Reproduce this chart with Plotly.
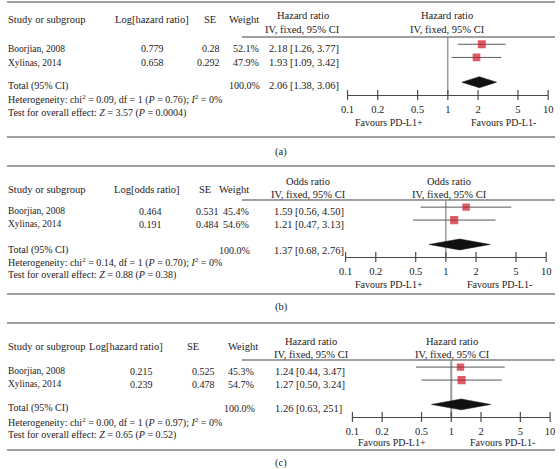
import plotly.graph_objects as go

# ---------------- data ----------------
studies = ["Boorjian, 2008", "Xylinas, 2014"]
tick_vals = [0.1, 0.2, 0.5, 1, 2, 5, 10]
tick_text = ["0.1", "0.2", "0.5", "1", "2", "5", "10"]

# panel (a)
a_log = ["0.779", "0.658"]
a_se = ["0.28", "0.292"]
a_weight = [52.1, 47.9]
a_est = [2.18, 1.93]
a_lo = [1.26, 1.09]
a_hi = [3.77, 3.42]
a_total = [2.06, 1.38, 3.06]
a_total_text = "2.06 [1.38, 3.06]"
a_het = "Heterogeneity: chi<sup>2</sup> = 0.09, df = 1 (<i>P</i> = 0.76); <i>I</i><sup>2</sup> = 0%"
a_test = "Test for overall effect: <i>Z</i> = 3.57 (<i>P</i> = 0.0004)"

# panel (b)
b_log = ["0.464", "0.191"]
b_se = ["0.531", "0.484"]
b_weight = [45.4, 54.6]
b_est = [1.59, 1.21]
b_lo = [0.56, 0.47]
b_hi = [4.50, 3.13]
b_total = [1.37, 0.68, 2.76]
b_total_text = "1.37 [0.68, 2.76]"
b_het = "Heterogeneity: chi<sup>2</sup> = 0.14, df = 1 (<i>P</i> = 0.70); <i>I</i><sup>2</sup> = 0%"
b_test = "Test for overall effect: <i>Z</i> = 0.88 (<i>P</i> = 0.38)"

# panel (c)
c_log = ["0.215", "0.239"]
c_se = ["0.525", "0.478"]
c_weight = [45.3, 54.7]
c_est = [1.24, 1.27]
c_lo = [0.44, 0.50]
c_hi = [3.47, 3.24]
c_total = [1.26, 0.63, 2.51]
c_total_text = "1.26 [0.63, 251]"
c_het = "Heterogeneity: chi<sup>2</sup> = 0.00, df = 1 (<i>P</i> = 0.97); <i>I</i><sup>2</sup> = 0%"
c_test = "Test for overall effect: <i>Z</i> = 0.65 (<i>P</i> = 0.52)"

# ---------------- layout helpers ----------------
W, H = 560, 469
FONT = "Liberation Serif"
TXT = "#1e1a1b"
RULE = "#808080"
DY = 2  # text vertical nudge (px)


def px(x):
    return x / W


def py(y):
    return 1 - y / H


annotations = []
shapes = []


def text(x, y, s, anchor="left", size=11):
    annotations.append(dict(x=px(x), y=py(y + DY), xref="paper", yref="paper", text=s,
                            showarrow=False, xanchor=anchor, yanchor="middle",
                            borderpad=0, borderwidth=0,
                            font=dict(family=FONT, size=size, color=TXT)))


def hline(y, x0, x1, width=1.3, color=RULE):
    shapes.append(dict(type="line", xref="paper", yref="paper", x0=px(x0), x1=px(x1),
                       y0=py(y), y1=py(y), line=dict(color=color, width=width)))


panels = [
    dict(log=a_log, se=a_se, w=a_weight, est=a_est, lo=a_lo, hi=a_hi, tot=a_total, tot_text=a_total_text,
         het=a_het, test=a_test, metric="Log[hazard ratio]", ratio="Hazard ratio", label="(a)",
         top=2, bottom=137, cap=150, head=18, head1=14, head2=27, hline=37, rows=[47, 61], total=84,
         hety=97, testy=111, axis=95, fav=120,
         x_log=149, x_loghead=148, x_se=218, x_sehead=207, x_w=258, x_whead=242, x_ci=268, x_cihead=302,
         fx0=348, fx1=553, fhead=450, fav1=390, fav2=507, vcol="#6a6a6a", vw=1),
    dict(log=b_log, se=b_se, w=b_weight, est=b_est, lo=b_lo, hi=b_hi, tot=b_total, tot_text=b_total_text,
         het=b_het, test=b_test, metric="Log[odds ratio]", ratio="Odds ratio", label="(b)",
         top=166, bottom=294, cap=305, head=187, head1=179, head2=192, hline=200, rows=[209, 222], total=248,
         hety=260, testy=273, axis=257, fav=282,
         x_log=147, x_loghead=143, x_se=217, x_sehead=202, x_w=247, x_whead=232, x_ci=273, x_cihead=308,
         fx0=346, fx1=551, fhead=452, fav1=390, fav2=503, vcol="#6a6a6a", vw=1),
    dict(log=c_log, se=c_se, w=c_weight, est=c_est, lo=c_lo, hi=c_hi, tot=c_total, tot_text=c_total_text,
         het=c_het, test=c_test, metric="Log[hazard ratio]", ratio="Hazard ratio", label="(c)",
         top=323, bottom=450, cap=461, head=344, head1=339, head2=352, hline=360, rows=[369, 382], total=406,
         hety=420, testy=433, axis=417, fav=440,
         x_log=137, x_loghead=122, x_se=213, x_sehead=190, x_w=252, x_whead=241, x_ci=274, x_cihead=311,
         fx0=353, fx1=555, fhead=455, fav1=393, fav2=506, vcol="#9a9a9a", vw=2),
]

fig = go.Figure()
layout_axes = {}
Y_TOP, Y_BOT = -0.55, 3.85
TOTAL_ROW = 2.88
H_DIAMOND = 0.42

for i, p in enumerate(panels, start=1):
    # rules
    hline(p["top"], 0, W)
    hline(p["bottom"], 0, W)
    hline(p["hline"], 240, W)
    text(280, p["cap"], p["label"], "center", size=10.5)

    # header
    text(1, p["head"], "Study or subgroup", size=10.5)
    text(p["x_loghead"], p["head"], p["metric"], "center", size=10.5)
    text(p["x_sehead"], p["head"], "SE", "center", size=10.5)
    text(p["x_whead"], p["head"], "Weight", "center", size=10.5)
    text(p["x_cihead"], p["head1"], p["ratio"], "center", size=10.5)
    text(p["x_cihead"], p["head2"], "IV, fixed, 95% CI", "center", size=10.5)
    text(p["fhead"], p["head1"], p["ratio"], "center", size=10.5)
    text(p["fhead"], p["head2"], "IV, fixed, 95% CI", "center", size=10.5)

    # study rows
    for k, s in enumerate(studies):
        y = p["rows"][k]
        text(1, y, s, size=9.5)
        text(p["x_log"], y, p["log"][k], "center", size=10)
        text(p["x_se"], y, p["se"][k], "right", size=10)
        text(p["x_w"], y, f"{p['w'][k]:.1f}%", "right", size=10)
        text(p["x_ci"], y, f"{p['est'][k]:.2f} [{p['lo'][k]:.2f}, {p['hi'][k]:.2f}]", size=10.5)

    # totals
    text(1, p["total"], "Total (95% CI)", size=10)
    text(p["x_w"] + 1, p["total"], f"{sum(p['w']):.1f}%", "right", size=10)
    text(p["x_ci"], p["total"], p["tot_text"], size=10.5)
    text(1, p["hety"], p["het"], size=10)
    text(1, p["testy"], p["test"], size=10)

    # favours
    text(p["fav1"], p["fav"], "Favours PD-L1+", "center", size=10)
    text(p["fav2"], p["fav"], "Favours PD-L1-", "center", size=10)

    xa = "x" if i == 1 else f"x{i}"
    ya = "y" if i == 1 else f"y{i}"

    # vertical line of no effect
    fig.add_trace(go.Scatter(x=[1, 1], y=[Y_TOP, Y_BOT], mode="lines",
                             line=dict(color=p["vcol"], width=p["vw"]),
                             xaxis=xa, yaxis=ya, hoverinfo="skip", showlegend=False))
    # CI lines
    for k in range(len(studies)):
        fig.add_trace(go.Scatter(x=[p["lo"][k], p["hi"][k]], y=[k, k], mode="lines",
                                 line=dict(color="#5a5a5a", width=1),
                                 xaxis=xa, yaxis=ya, showlegend=False))
    # squares
    fig.add_trace(go.Scatter(x=p["est"], y=list(range(len(studies))), mode="markers",
                             marker=dict(symbol="square", color="#cc1a22",
                                         size=[7.8 * (w / 50) ** 0.5 for w in p["w"]],
                                         line=dict(width=0)),
                             xaxis=xa, yaxis=ya, showlegend=False))
    # diamond
    est, lo, hi = p["tot"]
    fig.add_trace(go.Scatter(x=[lo, est, hi, est, lo],
                             y=[TOTAL_ROW, TOTAL_ROW - H_DIAMOND, TOTAL_ROW, TOTAL_ROW + H_DIAMOND, TOTAL_ROW],
                             mode="lines", fill="toself", fillcolor="#111111",
                             line=dict(color="#111111", width=0.5),
                             xaxis=xa, yaxis=ya, showlegend=False))
    # tick marks crossing the axis
    fig.add_trace(go.Scatter(x=tick_vals, y=[Y_BOT] * len(tick_vals), mode="markers",
                             marker=dict(symbol="line-ns", size=7,
                                         line=dict(color="#4a4a4a", width=1.2)),
                             cliponaxis=False, xaxis=xa, yaxis=ya, showlegend=False))

    xkey = "xaxis" if i == 1 else f"xaxis{i}"
    ykey = "yaxis" if i == 1 else f"yaxis{i}"
    layout_axes[xkey] = dict(type="log", range=[-1, 1], domain=[px(p["fx0"]), px(p["fx1"])],
                             anchor=ya, showline=True, linecolor="#4a4a4a", linewidth=1.2,
                             showgrid=False, zeroline=False, ticks="", ticklabelstandoff=4,
                             tickvals=tick_vals, ticktext=tick_text,
                             tickfont=dict(family=FONT, size=10.5, color=TXT),
                             fixedrange=True)
    layout_axes[ykey] = dict(range=[Y_BOT, Y_TOP], domain=[py(p["axis"]), py(p["hline"])],
                             anchor=xa, visible=False, fixedrange=True)

fig.update_layout(width=W, height=H, margin=dict(l=0, r=0, t=0, b=0),
                  paper_bgcolor="white", plot_bgcolor="rgba(0,0,0,0)",
                  showlegend=False, annotations=annotations, shapes=shapes,
                  **layout_axes)

fig.write_html("out.html", post_script="document.body.style.margin='0';",
               config={"displayModeBar": False})
